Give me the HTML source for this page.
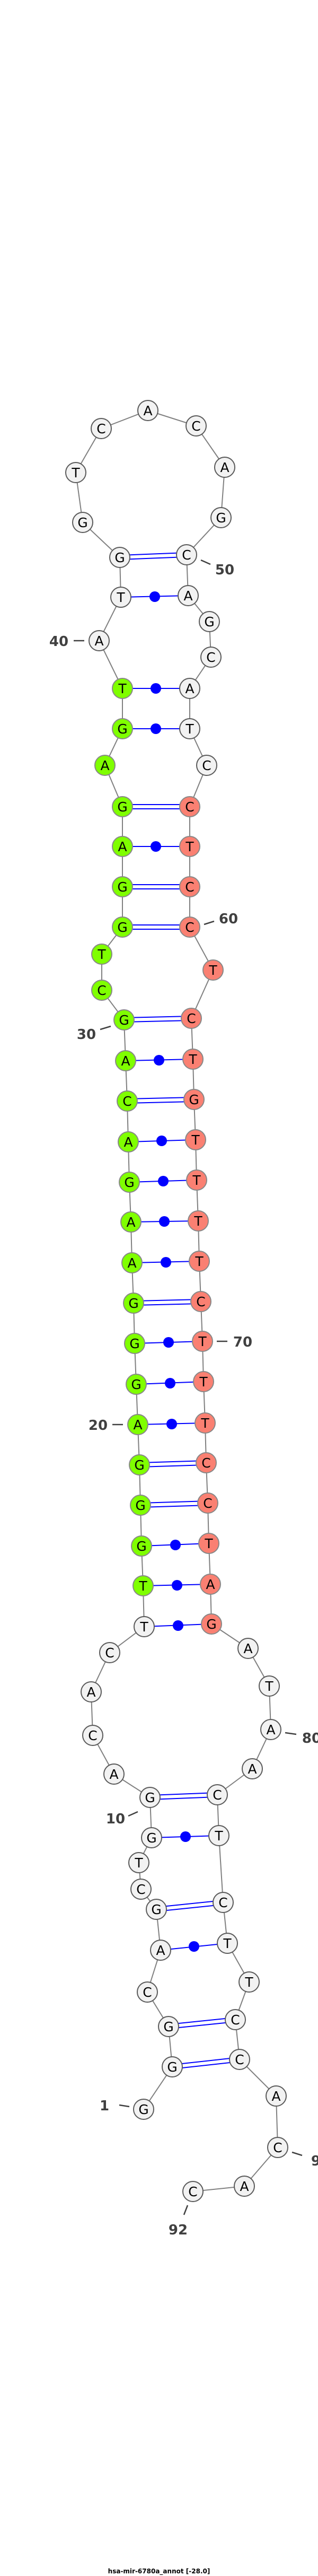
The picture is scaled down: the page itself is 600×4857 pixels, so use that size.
<!DOCTYPE html>
<html><head><meta charset="utf-8"><style>
html,body{margin:0;padding:0;background:#fff;}
svg{display:block;}
.bb line{stroke:#808080;stroke-width:2;}
.pr line{stroke:#0000ff;stroke-width:2;}
.pr circle{fill:#0000ff;}
.n circle{stroke-width:2;}
.w{fill:#f2f2f2;stroke:#5a5a5a;}
.g{fill:#7fff00;stroke:#888;}
.r{fill:#fa8072;stroke:#888;}
.n text{font-family:"DejaVu Sans","Liberation Sans",sans-serif;font-size:25px;text-anchor:middle;fill:#000;}
.lb text{font-family:"DejaVu Sans","Liberation Sans",sans-serif;font-size:26px;font-weight:bold;fill:#404040;text-anchor:middle;}
.lb line{stroke:#404040;stroke-width:2.5;}
</style></head><body>
<svg width="600" height="4857" viewBox="0 0 600 4857" xmlns="http://www.w3.org/2000/svg">
<g class="bb">
<line x1="271" y1="3977" x2="325" y2="3897"/><line x1="325" y1="3897" x2="318" y2="3821"/><line x1="318" y1="3821" x2="278" y2="3756"/><line x1="278" y1="3756" x2="303" y2="3677"/><line x1="303" y1="3677" x2="295" y2="3600"/><line x1="295" y1="3600" x2="266" y2="3562"/><line x1="266" y1="3562" x2="262" y2="3512"/><line x1="262" y1="3512" x2="286" y2="3465"/><line x1="286" y1="3465" x2="283" y2="3389"/><line x1="283" y1="3389" x2="215" y2="3345"/><line x1="215" y1="3345" x2="175" y2="3272"/><line x1="175" y1="3272" x2="172" y2="3190"/><line x1="172" y1="3190" x2="207" y2="3116"/><line x1="207" y1="3116" x2="272" y2="3067"/><line x1="272" y1="3067" x2="270" y2="2990"/><line x1="270" y1="2990" x2="267" y2="2915"/><line x1="267" y1="2915" x2="265" y2="2838"/><line x1="265" y1="2838" x2="263" y2="2762"/><line x1="263" y1="2762" x2="260" y2="2686"/><line x1="260" y1="2686" x2="257" y2="2610"/><line x1="257" y1="2610" x2="254" y2="2533"/><line x1="254" y1="2533" x2="252" y2="2457"/><line x1="252" y1="2457" x2="249" y2="2381"/><line x1="249" y1="2381" x2="247" y2="2304"/><line x1="247" y1="2304" x2="244" y2="2229"/><line x1="244" y1="2229" x2="242" y2="2153"/><line x1="242" y1="2153" x2="240" y2="2076"/><line x1="240" y1="2076" x2="237" y2="2000"/><line x1="237" y1="2000" x2="234" y2="1923"/><line x1="234" y1="1923" x2="192" y2="1867"/><line x1="192" y1="1867" x2="192" y2="1799"/><line x1="192" y1="1799" x2="231" y2="1748"/><line x1="231" y1="1748" x2="231" y2="1672"/><line x1="231" y1="1672" x2="231" y2="1596"/><line x1="231" y1="1596" x2="231" y2="1521"/><line x1="231" y1="1521" x2="198" y2="1443"/><line x1="198" y1="1443" x2="231" y2="1374"/><line x1="231" y1="1374" x2="231" y2="1298"/><line x1="231" y1="1298" x2="187" y2="1208"/><line x1="187" y1="1208" x2="228" y2="1126"/><line x1="228" y1="1126" x2="226" y2="1051"/><line x1="226" y1="1051" x2="156" y2="985"/><line x1="156" y1="985" x2="143" y2="891"/><line x1="143" y1="891" x2="191" y2="808"/><line x1="191" y1="808" x2="279" y2="774"/><line x1="279" y1="774" x2="370" y2="803"/><line x1="370" y1="803" x2="424" y2="881"/><line x1="424" y1="881" x2="417" y2="976"/><line x1="417" y1="976" x2="352" y2="1046"/><line x1="352" y1="1046" x2="355" y2="1123"/><line x1="355" y1="1123" x2="395" y2="1172"/><line x1="395" y1="1172" x2="398" y2="1239"/><line x1="398" y1="1239" x2="358" y2="1298"/><line x1="358" y1="1298" x2="358" y2="1374"/><line x1="358" y1="1374" x2="390" y2="1443"/><line x1="390" y1="1443" x2="358" y2="1521"/><line x1="358" y1="1521" x2="358" y2="1596"/><line x1="358" y1="1596" x2="358" y2="1672"/><line x1="358" y1="1672" x2="358" y2="1748"/><line x1="358" y1="1748" x2="402" y2="1829"/><line x1="402" y1="1829" x2="361" y2="1920"/><line x1="361" y1="1920" x2="364" y2="1997"/><line x1="364" y1="1997" x2="366" y2="2073"/><line x1="366" y1="2073" x2="369" y2="2149"/><line x1="369" y1="2149" x2="371" y2="2225"/><line x1="371" y1="2225" x2="374" y2="2302"/><line x1="374" y1="2302" x2="376" y2="2378"/><line x1="376" y1="2378" x2="379" y2="2454"/><line x1="379" y1="2454" x2="382" y2="2529"/><line x1="382" y1="2529" x2="384" y2="2605"/><line x1="384" y1="2605" x2="387" y2="2683"/><line x1="387" y1="2683" x2="389" y2="2758"/><line x1="389" y1="2758" x2="392" y2="2834"/><line x1="392" y1="2834" x2="394" y2="2910"/><line x1="394" y1="2910" x2="397" y2="2987"/><line x1="397" y1="2987" x2="399" y2="3062"/><line x1="399" y1="3062" x2="468" y2="3108"/><line x1="468" y1="3108" x2="508" y2="3179"/><line x1="508" y1="3179" x2="511" y2="3261"/><line x1="511" y1="3261" x2="476" y2="3335"/><line x1="476" y1="3335" x2="410" y2="3384"/><line x1="410" y1="3384" x2="413" y2="3461"/><line x1="413" y1="3461" x2="421" y2="3587"/><line x1="421" y1="3587" x2="429" y2="3664"/><line x1="429" y1="3664" x2="470" y2="3737"/><line x1="470" y1="3737" x2="444" y2="3808"/><line x1="444" y1="3808" x2="452" y2="3883"/><line x1="452" y1="3883" x2="521" y2="3952"/><line x1="521" y1="3952" x2="524" y2="4049"/><line x1="524" y1="4049" x2="461" y2="4122"/><line x1="461" y1="4122" x2="364" y2="4132"/>
</g>
<g class="pr">
<!-- double -->
<line x1="283" y1="3385" x2="410" y2="3380"/><line x1="283" y1="3393" x2="410" y2="3388"/>
<line x1="295" y1="3596" x2="421" y2="3583"/><line x1="295" y1="3604" x2="421" y2="3591"/>
<line x1="318" y1="3817" x2="444" y2="3804"/><line x1="318" y1="3825" x2="444" y2="3812"/>
<line x1="325" y1="3893" x2="452" y2="3879"/><line x1="325" y1="3901" x2="452" y2="3887"/>
<line x1="265" y1="2834" x2="392" y2="2830"/><line x1="265" y1="2842" x2="392" y2="2838"/>
<line x1="263" y1="2758" x2="389" y2="2754"/><line x1="263" y1="2766" x2="389" y2="2762"/>
<line x1="252" y1="2453" x2="379" y2="2450"/><line x1="252" y1="2461" x2="379" y2="2458"/>
<line x1="240" y1="2072" x2="366" y2="2069"/><line x1="240" y1="2080" x2="366" y2="2077"/>
<line x1="234" y1="1919" x2="361" y2="1916"/><line x1="234" y1="1927" x2="361" y2="1924"/>
<line x1="231" y1="1744" x2="358" y2="1744"/><line x1="231" y1="1752" x2="358" y2="1752"/>
<line x1="231" y1="1668" x2="358" y2="1668"/><line x1="231" y1="1676" x2="358" y2="1676"/>
<line x1="231" y1="1517" x2="358" y2="1517"/><line x1="231" y1="1525" x2="358" y2="1525"/>
<line x1="226" y1="1047" x2="352" y2="1042"/><line x1="226" y1="1055" x2="352" y2="1050"/>
<!-- single with dot -->
<line x1="286" y1="3465" x2="413" y2="3461"/><circle cx="350" cy="3463" r="10"/>
<line x1="303" y1="3677" x2="429" y2="3664"/><circle cx="366" cy="3670" r="10"/>
<line x1="272" y1="3067" x2="399" y2="3062"/><circle cx="336" cy="3065" r="10"/>
<line x1="270" y1="2990" x2="397" y2="2987"/><circle cx="334" cy="2989" r="10"/>
<line x1="267" y1="2915" x2="394" y2="2910"/><circle cx="331" cy="2913" r="10"/>
<line x1="260" y1="2686" x2="387" y2="2683"/><circle cx="324" cy="2685" r="10"/>
<line x1="257" y1="2610" x2="384" y2="2605"/><circle cx="321" cy="2608" r="10"/>
<line x1="254" y1="2533" x2="382" y2="2529"/><circle cx="318" cy="2531" r="10"/>
<line x1="249" y1="2381" x2="376" y2="2378"/><circle cx="313" cy="2380" r="10"/>
<line x1="247" y1="2304" x2="374" y2="2302"/><circle cx="310" cy="2303" r="10"/>
<line x1="244" y1="2229" x2="371" y2="2225"/><circle cx="308" cy="2227" r="10"/>
<line x1="242" y1="2153" x2="369" y2="2149"/><circle cx="305" cy="2151" r="10"/>
<line x1="237" y1="2000" x2="364" y2="1997"/><circle cx="300" cy="1999" r="10"/>
<line x1="231" y1="1596" x2="358" y2="1596"/><circle cx="294" cy="1596" r="10"/>
<line x1="231" y1="1374" x2="358" y2="1374"/><circle cx="294" cy="1374" r="10"/>
<line x1="231" y1="1298" x2="358" y2="1298"/><circle cx="294" cy="1298" r="10"/>
<line x1="228" y1="1126" x2="355" y2="1123"/><circle cx="292" cy="1125" r="10"/>
</g>
<g class="n">
<circle class="w" cx="271" cy="3977" r="19"/><text x="271" y="3986">G</text>
<circle class="w" cx="325" cy="3897" r="19"/><text x="325" y="3906">G</text>
<circle class="w" cx="318" cy="3821" r="19"/><text x="318" y="3830">G</text>
<circle class="w" cx="278" cy="3756" r="19"/><text x="278" y="3765">C</text>
<circle class="w" cx="303" cy="3677" r="19"/><text x="303" y="3686">A</text>
<circle class="w" cx="295" cy="3600" r="19"/><text x="295" y="3609">G</text>
<circle class="w" cx="266" cy="3562" r="19"/><text x="266" y="3571">C</text>
<circle class="w" cx="262" cy="3512" r="19"/><text x="262" y="3521">T</text>
<circle class="w" cx="286" cy="3465" r="19"/><text x="286" y="3474">G</text>
<circle class="w" cx="283" cy="3389" r="19"/><text x="283" y="3398">G</text>
<circle class="w" cx="215" cy="3345" r="19"/><text x="215" y="3354">A</text>
<circle class="w" cx="175" cy="3272" r="19"/><text x="175" y="3281">C</text>
<circle class="w" cx="172" cy="3190" r="19"/><text x="172" y="3199">A</text>
<circle class="w" cx="207" cy="3116" r="19"/><text x="207" y="3125">C</text>
<circle class="w" cx="272" cy="3067" r="19"/><text x="272" y="3076">T</text>
<circle class="g" cx="270" cy="2990" r="19"/><text x="270" y="2999">T</text>
<circle class="g" cx="267" cy="2915" r="19"/><text x="267" y="2924">G</text>
<circle class="g" cx="265" cy="2838" r="19"/><text x="265" y="2847">G</text>
<circle class="g" cx="263" cy="2762" r="19"/><text x="263" y="2771">G</text>
<circle class="g" cx="260" cy="2686" r="19"/><text x="260" y="2695">A</text>
<circle class="g" cx="257" cy="2610" r="19"/><text x="257" y="2619">G</text>
<circle class="g" cx="254" cy="2533" r="19"/><text x="254" y="2542">G</text>
<circle class="g" cx="252" cy="2457" r="19"/><text x="252" y="2466">G</text>
<circle class="g" cx="249" cy="2381" r="19"/><text x="249" y="2390">A</text>
<circle class="g" cx="247" cy="2304" r="19"/><text x="247" y="2313">A</text>
<circle class="g" cx="244" cy="2229" r="19"/><text x="244" y="2238">G</text>
<circle class="g" cx="242" cy="2153" r="19"/><text x="242" y="2162">A</text>
<circle class="g" cx="240" cy="2076" r="19"/><text x="240" y="2085">C</text>
<circle class="g" cx="237" cy="2000" r="19"/><text x="237" y="2009">A</text>
<circle class="g" cx="234" cy="1923" r="19"/><text x="234" y="1932">G</text>
<circle class="g" cx="192" cy="1867" r="19"/><text x="192" y="1876">C</text>
<circle class="g" cx="192" cy="1799" r="19"/><text x="192" y="1808">T</text>
<circle class="g" cx="231" cy="1748" r="19"/><text x="231" y="1757">G</text>
<circle class="g" cx="231" cy="1672" r="19"/><text x="231" y="1681">G</text>
<circle class="g" cx="231" cy="1596" r="19"/><text x="231" y="1605">A</text>
<circle class="g" cx="231" cy="1521" r="19"/><text x="231" y="1530">G</text>
<circle class="g" cx="198" cy="1443" r="19"/><text x="198" y="1452">A</text>
<circle class="g" cx="231" cy="1374" r="19"/><text x="231" y="1383">G</text>
<circle class="g" cx="231" cy="1298" r="19"/><text x="231" y="1307">T</text>
<circle class="w" cx="187" cy="1208" r="19"/><text x="187" y="1217">A</text>
<circle class="w" cx="228" cy="1126" r="19"/><text x="228" y="1135">T</text>
<circle class="w" cx="226" cy="1051" r="19"/><text x="226" y="1060">G</text>
<circle class="w" cx="156" cy="985" r="19"/><text x="156" y="994">G</text>
<circle class="w" cx="143" cy="891" r="19"/><text x="143" y="900">T</text>
<circle class="w" cx="191" cy="808" r="19"/><text x="191" y="817">C</text>
<circle class="w" cx="279" cy="774" r="19"/><text x="279" y="783">A</text>
<circle class="w" cx="370" cy="803" r="19"/><text x="370" y="812">C</text>
<circle class="w" cx="424" cy="881" r="19"/><text x="424" y="890">A</text>
<circle class="w" cx="417" cy="976" r="19"/><text x="417" y="985">G</text>
<circle class="w" cx="352" cy="1046" r="19"/><text x="352" y="1055">C</text>
<circle class="w" cx="355" cy="1123" r="19"/><text x="355" y="1132">A</text>
<circle class="w" cx="395" cy="1172" r="19"/><text x="395" y="1181">G</text>
<circle class="w" cx="398" cy="1239" r="19"/><text x="398" y="1248">C</text>
<circle class="w" cx="358" cy="1298" r="19"/><text x="358" y="1307">A</text>
<circle class="w" cx="358" cy="1374" r="19"/><text x="358" y="1383">T</text>
<circle class="w" cx="390" cy="1443" r="19"/><text x="390" y="1452">C</text>
<circle class="r" cx="358" cy="1521" r="19"/><text x="358" y="1530">C</text>
<circle class="r" cx="358" cy="1596" r="19"/><text x="358" y="1605">T</text>
<circle class="r" cx="358" cy="1672" r="19"/><text x="358" y="1681">C</text>
<circle class="r" cx="358" cy="1748" r="19"/><text x="358" y="1757">C</text>
<circle class="r" cx="402" cy="1829" r="19"/><text x="402" y="1838">T</text>
<circle class="r" cx="361" cy="1920" r="19"/><text x="361" y="1929">C</text>
<circle class="r" cx="364" cy="1997" r="19"/><text x="364" y="2006">T</text>
<circle class="r" cx="366" cy="2073" r="19"/><text x="366" y="2082">G</text>
<circle class="r" cx="369" cy="2149" r="19"/><text x="369" y="2158">T</text>
<circle class="r" cx="371" cy="2225" r="19"/><text x="371" y="2234">T</text>
<circle class="r" cx="374" cy="2302" r="19"/><text x="374" y="2311">T</text>
<circle class="r" cx="376" cy="2378" r="19"/><text x="376" y="2387">T</text>
<circle class="r" cx="379" cy="2454" r="19"/><text x="379" y="2463">C</text>
<circle class="r" cx="382" cy="2529" r="19"/><text x="382" y="2538">T</text>
<circle class="r" cx="384" cy="2605" r="19"/><text x="384" y="2614">T</text>
<circle class="r" cx="387" cy="2683" r="19"/><text x="387" y="2692">T</text>
<circle class="r" cx="389" cy="2758" r="19"/><text x="389" y="2767">C</text>
<circle class="r" cx="392" cy="2834" r="19"/><text x="392" y="2843">C</text>
<circle class="r" cx="394" cy="2910" r="19"/><text x="394" y="2919">T</text>
<circle class="r" cx="397" cy="2987" r="19"/><text x="397" y="2996">A</text>
<circle class="r" cx="399" cy="3062" r="19"/><text x="399" y="3071">G</text>
<circle class="w" cx="468" cy="3108" r="19"/><text x="468" y="3117">A</text>
<circle class="w" cx="508" cy="3179" r="19"/><text x="508" y="3188">T</text>
<circle class="w" cx="511" cy="3261" r="19"/><text x="511" y="3270">A</text>
<circle class="w" cx="476" cy="3335" r="19"/><text x="476" y="3344">A</text>
<circle class="w" cx="410" cy="3384" r="19"/><text x="410" y="3393">C</text>
<circle class="w" cx="413" cy="3461" r="19"/><text x="413" y="3470">T</text>
<circle class="w" cx="421" cy="3587" r="19"/><text x="421" y="3596">C</text>
<circle class="w" cx="429" cy="3664" r="19"/><text x="429" y="3673">T</text>
<circle class="w" cx="470" cy="3737" r="19"/><text x="470" y="3746">T</text>
<circle class="w" cx="444" cy="3808" r="19"/><text x="444" y="3817">C</text>
<circle class="w" cx="452" cy="3883" r="19"/><text x="452" y="3892">C</text>
<circle class="w" cx="521" cy="3952" r="19"/><text x="521" y="3961">A</text>
<circle class="w" cx="524" cy="4049" r="19"/><text x="524" y="4058">C</text>
<circle class="w" cx="461" cy="4122" r="19"/><text x="461" y="4131">A</text>
<circle class="w" cx="364" cy="4132" r="19"/><text x="364" y="4141">C</text>
</g>
<g class="lb">
<line x1="225" y1="3969" x2="244" y2="3972"/><text x="197" y="3979">1</text>
<line x1="242" y1="3424" x2="260" y2="3416"/><text x="218" y="3438">10</text>
<line x1="212" y1="2686" x2="232" y2="2686"/><text x="185" y="2696">20</text>
<line x1="189" y1="1941" x2="209" y2="1935"/><text x="163" y="1959">30</text>
<line x1="139" y1="1208" x2="159" y2="1208"/><text x="111" y="1218">40</text>
<line x1="379" y1="1056" x2="397" y2="1064"/><text x="424" y="1083">50</text>
<line x1="385" y1="1743" x2="404" y2="1737"/><text x="431" y="1741">60</text>
<line x1="409" y1="2529" x2="429" y2="2529"/><text x="458" y="2539">70</text>
<line x1="538" y1="3267" x2="559" y2="3270"/><text x="588" y="3286">80</text>
<line x1="551" y1="4058" x2="570" y2="4064"/><text x="605" y="4083">90</text>
<line x1="354" y1="4158" x2="347" y2="4176"/><text x="336" y="4213">92</text>
</g>
<text x="300" y="4852" text-anchor="middle" font-family="DejaVu Sans, Liberation Sans, sans-serif" font-size="12" font-weight="bold" fill="#000">hsa-mir-6780a_annot [-28.0]</text>
</svg>
</body></html>
